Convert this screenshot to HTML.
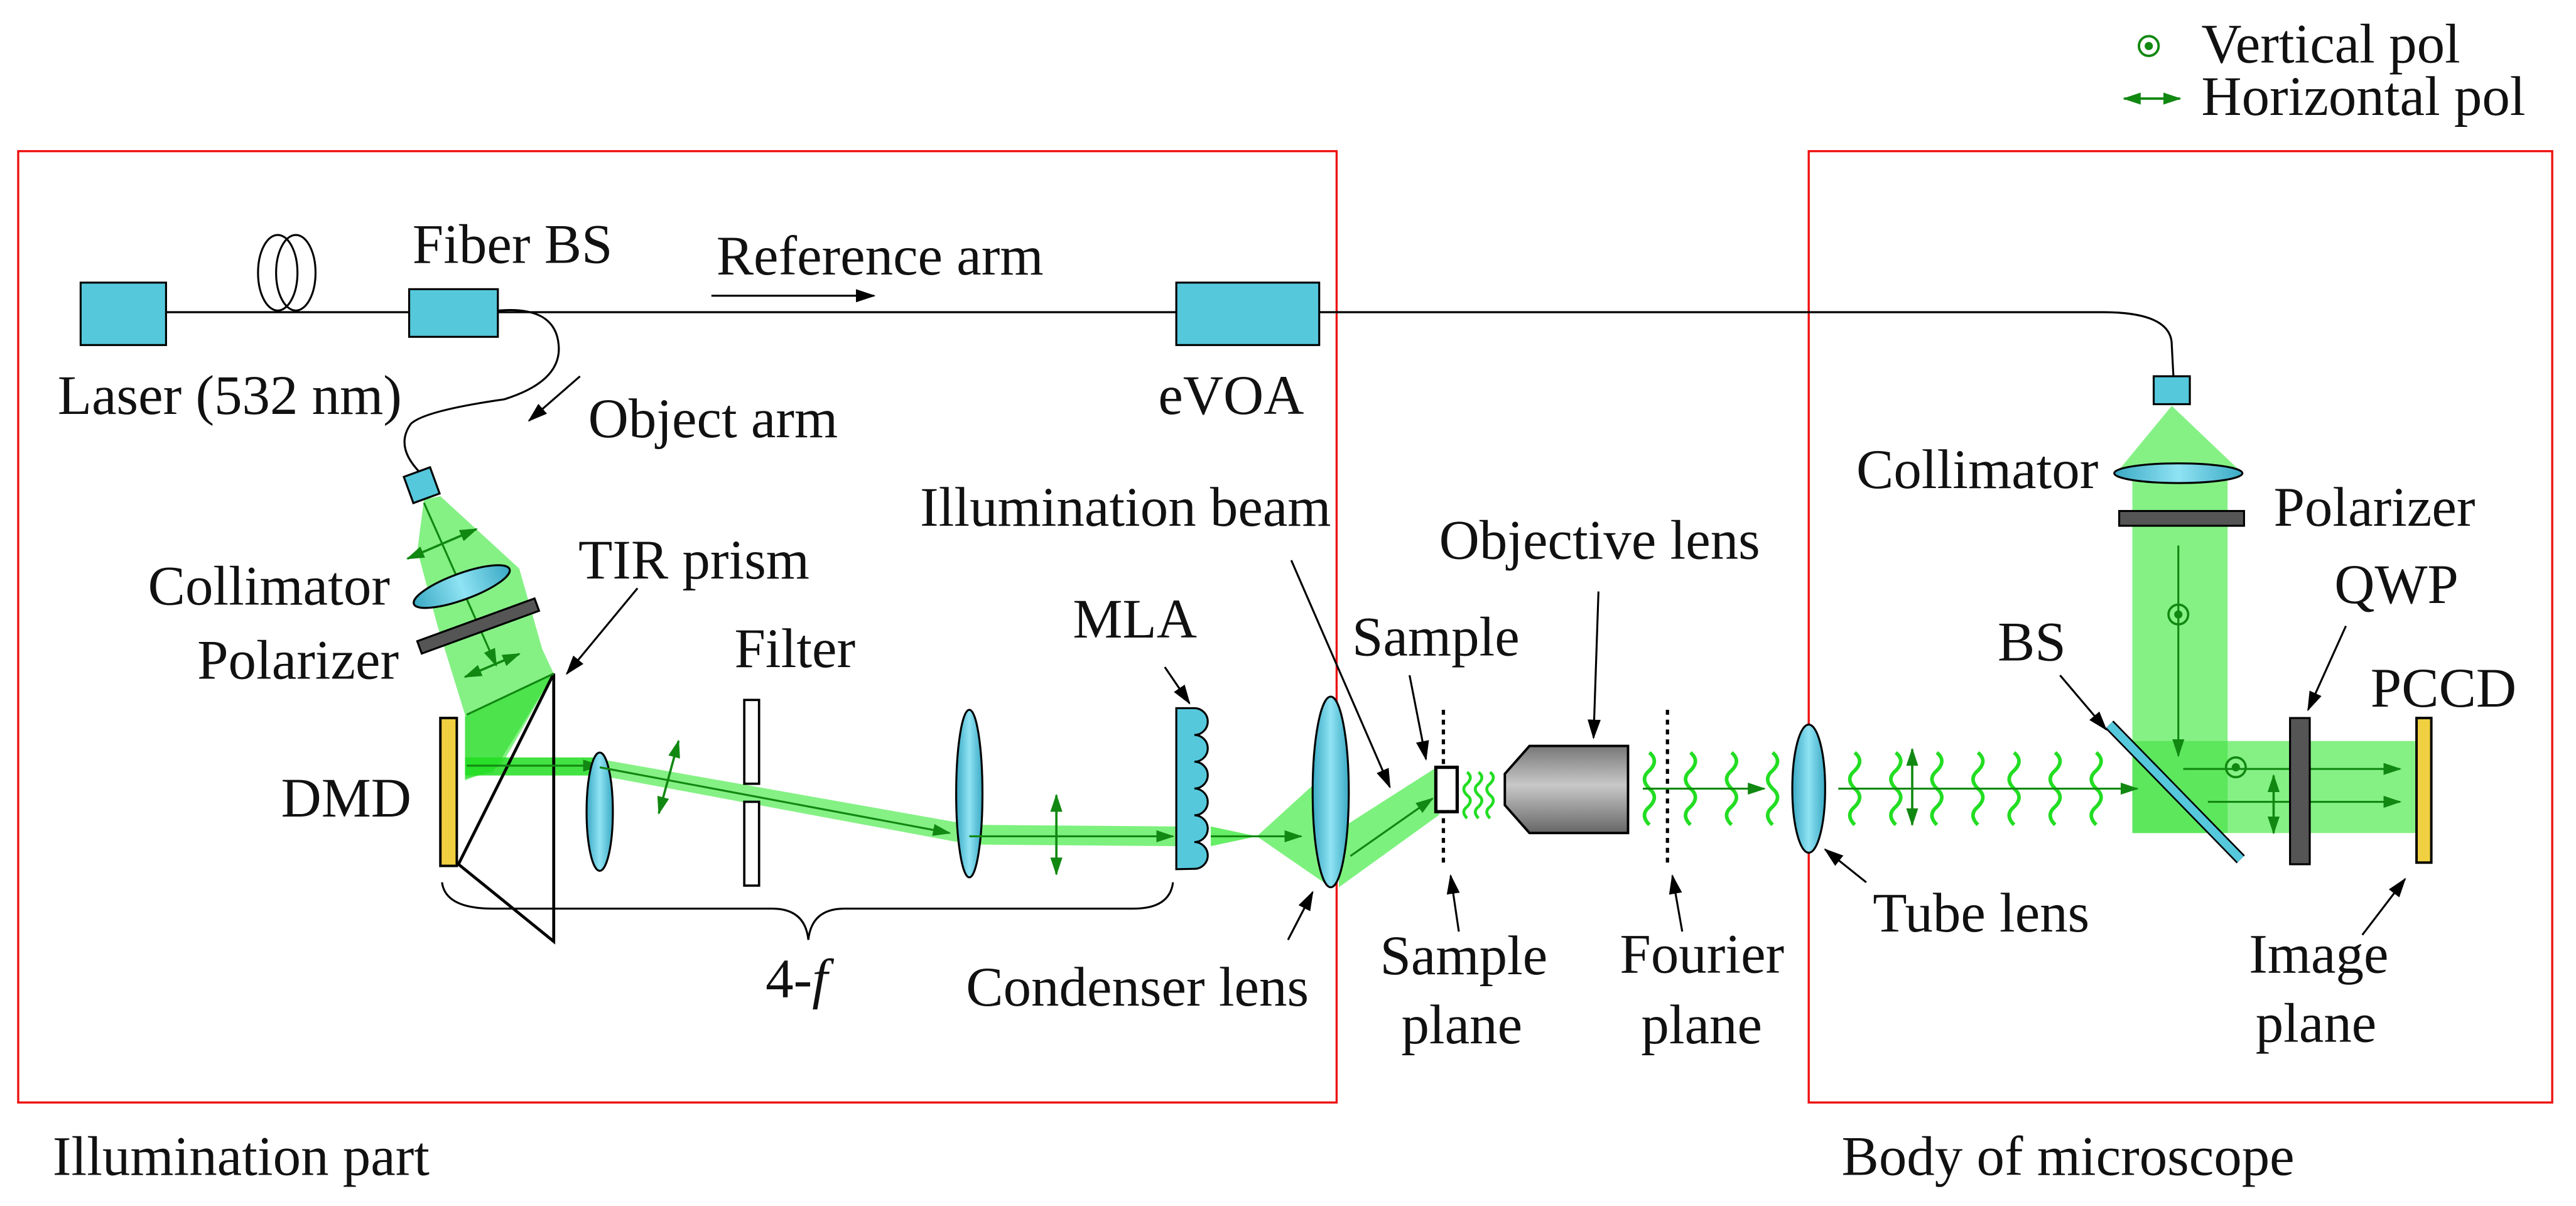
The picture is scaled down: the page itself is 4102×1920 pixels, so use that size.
<!DOCTYPE html>
<html><head><meta charset="utf-8"><style>
html,body{margin:0;padding:0;background:#fff;}
svg{display:block;}
svg text{font-family:"Liberation Serif","DejaVu Serif",serif !important;font-size:34px;fill:#111;}
</style></head><body>
<svg width="4102" height="1920" viewBox="0 0 1568 734" xmlns="http://www.w3.org/2000/svg" font-family="Liberation Serif, DejaVu Serif, serif">
<defs>
<marker id="ab" viewBox="0 0 12 8" refX="11" refY="4" markerWidth="12" markerHeight="8" markerUnits="userSpaceOnUse" orient="auto"><path d="M0,0 L12,4 L0,8 Z" fill="#000"/></marker>
<marker id="ag" viewBox="0 0 12 8" refX="11" refY="4" markerWidth="11" markerHeight="8" markerUnits="userSpaceOnUse" orient="auto"><path d="M0,0 L12,4 L0,8 Z" fill="#118811"/></marker>
<marker id="ags" viewBox="0 0 12 8" refX="1" refY="4" markerWidth="11" markerHeight="8" markerUnits="userSpaceOnUse" orient="auto"><path d="M12,0 L0,4 L12,8 Z" fill="#118811"/></marker>
<linearGradient id="lg" x1="0" x2="1"><stop offset="0" stop-color="#3aa9c4"/><stop offset="0.5" stop-color="#8fe3f3"/><stop offset="1" stop-color="#3aa9c4"/></linearGradient>
<linearGradient id="og" x1="0" y1="0" x2="0" y2="1"><stop offset="0" stop-color="#777"/><stop offset="0.45" stop-color="#c8c8c8"/><stop offset="1" stop-color="#666"/></linearGradient>
<path id="wv" d="M0,-22 q6,5 0,11 q-6,5 0,11 q6,5 0,11 q-6,5 0,11" fill="none" stroke="#22dd22" stroke-width="2.2"/>
</defs>

<rect x="11" y="92" width="802.6" height="579" fill="none" stroke="#ee1111" stroke-width="1.3"/>
<rect x="1101" y="92" width="452.6" height="579" fill="none" stroke="#ee1111" stroke-width="1.3"/>
<text x="32" y="715">Illumination part</text>
<text x="1121" y="715">Body of microscope</text>

<circle cx="1308" cy="28" r="6" fill="none" stroke="#118811" stroke-width="1.5"/><circle cx="1308" cy="28" r="2.5" fill="#118811"/>
<text x="1340" y="38">Vertical pol</text>
<line x1="1293" y1="60" x2="1327" y2="60" stroke="#118811" stroke-width="1.5" marker-start="url(#ags)" marker-end="url(#ag)"/>
<text x="1340" y="70">Horizontal pol</text>

<line x1="101" y1="190" x2="716" y2="190" stroke="#000" stroke-width="1.2"/>
<path d="M803,190 L1280,190 Q1322,190 1322,210 L1323,229" fill="none" stroke="#000" stroke-width="1.2"/>
<ellipse cx="169" cy="166" rx="12" ry="23" fill="none" stroke="#000" stroke-width="1.2"/>
<ellipse cx="180" cy="166" rx="12" ry="23" fill="none" stroke="#000" stroke-width="1.2"/>
<path d="M303,189 Q338,186 340,210 Q342,232 307,243 Q258,250 250,258 Q240,272 256,288" fill="none" stroke="#000" stroke-width="1.2"/>
<rect x="49" y="172" width="52" height="38" fill="#55c8dc" stroke="#000" stroke-width="1.2"/>
<rect x="249" y="176" width="54" height="29" fill="#55c8dc" stroke="#000" stroke-width="1.2"/>
<rect x="716" y="172" width="87" height="38" fill="#55c8dc" stroke="#000" stroke-width="1.2"/>
<text x="251" y="160">Fiber BS</text>
<text x="436" y="167">Reference arm</text>
<line x1="433" y1="180" x2="532" y2="180" stroke="#000" stroke-width="1.2" marker-end="url(#ab)"/>
<text x="35" y="252">Laser (532 nm)</text>
<text x="705" y="252">eVOA</text>
<line x1="353" y1="229" x2="322" y2="256" stroke="#000" stroke-width="1.2" marker-end="url(#ab)"/>
<text x="358" y="266">Object arm</text>

<polygon points="258,304 254,335 266,380 283,435 283,475 305,466 337,410 330,395 316,346 268,302" fill="#66ee66" opacity="0.8"/>
<polygon points="283,436 337,410 300,470 283,474" fill="#33dd33" opacity="0.7"/>
<polygon points="283,461 365,461 365,472 283,472" fill="#22dd22" opacity="0.85"/>
<polygon points="365,462 591,502 591,514 365,472" fill="#66ee66" opacity="0.8"/>
<polygon points="591,502 716,503 716,515 591,514" fill="#66ee66" opacity="0.85"/>
<polygon points="737,503 765,509 737,515" fill="#66ee66"/>
<polygon points="765,509 810,468 810,540" fill="#66ee66" opacity="0.85"/>
<polygon points="815,505 876,466 876,496 815,540" fill="#66ee66" opacity="0.85"/>
<rect x="248" y="287" width="17" height="17" fill="#55c8dc" stroke="#000" stroke-width="1.2" transform="rotate(-20 256 295)"/>
<line x1="258" y1="306" x2="302" y2="405" stroke="#118811" stroke-width="1.2" marker-end="url(#ag)"/>
<line x1="248" y1="340" x2="290" y2="322" stroke="#118811" stroke-width="1.4" marker-start="url(#ags)" marker-end="url(#ag)"/>
<line x1="283" y1="412" x2="316" y2="398" stroke="#118811" stroke-width="1.4" marker-start="url(#ags)" marker-end="url(#ag)"/>
<ellipse cx="281" cy="357" rx="31" ry="8" fill="url(#lg)" stroke="#000" stroke-width="1.2" transform="rotate(-20 281 357)"/>
<rect x="253" y="377" width="76" height="8" fill="#555" stroke="#000" stroke-width="1.2" transform="rotate(-20 291 381)"/>
<text x="90" y="368">Collimator</text>
<text x="120" y="413">Polarizer</text>

<rect x="268" y="437" width="10" height="90" fill="#f0d040" stroke="#000" stroke-width="1.5"/>
<text x="171" y="497">DMD</text>
<polygon points="337,410 279,526 337,573" fill="none" stroke="#000" stroke-width="1.8"/>
<line x1="284" y1="435" x2="337" y2="410" stroke="#118811" stroke-width="1.2"/>
<line x1="284" y1="466" x2="365" y2="466" stroke="#118811" stroke-width="1.2" marker-end="url(#ag)"/>
<text x="352" y="352">TIR prism</text>
<line x1="388" y1="358" x2="345" y2="410" stroke="#000" stroke-width="1.2" marker-end="url(#ab)"/>

<ellipse cx="365" cy="494" rx="8" ry="36" fill="url(#lg)" stroke="#000" stroke-width="1.2"/>
<line x1="365" y1="467" x2="578" y2="507" stroke="#118811" stroke-width="1.2" marker-end="url(#ag)"/>
<line x1="413" y1="451" x2="401" y2="495" stroke="#118811" stroke-width="1.4" marker-start="url(#ags)" marker-end="url(#ag)"/>
<rect x="453" y="426" width="9" height="51" fill="#fff" stroke="#000" stroke-width="1.4"/>
<rect x="453" y="488" width="9" height="51" fill="#fff" stroke="#000" stroke-width="1.4"/>
<text x="447" y="406">Filter</text>
<ellipse cx="590" cy="483" rx="8" ry="51" fill="url(#lg)" stroke="#000" stroke-width="1.2"/>
<line x1="590" y1="509" x2="714" y2="509" stroke="#118811" stroke-width="1.2" marker-end="url(#ag)"/>
<line x1="643" y1="484" x2="643" y2="532" stroke="#118811" stroke-width="1.4" marker-start="url(#ags)" marker-end="url(#ag)"/>
<path d="M716,431 L727,431 a8,8 0 0 1 0,16.3 a8,8 0 0 1 0,16.3 a8,8 0 0 1 0,16.3 a8,8 0 0 1 0,16.3 a8,8 0 0 1 0,16.3 a8,8 0 0 1 0,16.3 L716,529 Z" fill="#55c8dc" stroke="#000" stroke-width="1.2"/>
<text x="653" y="388">MLA</text>
<line x1="709" y1="406" x2="724" y2="428" stroke="#000" stroke-width="1.2" marker-end="url(#ab)"/>
<path d="M269,537 Q271,553 300,553 L470,553 Q490,553 492,572 Q494,553 514,553 L690,553 Q712,553 714,537" fill="none" stroke="#000" stroke-width="1.2"/>
<text x="466" y="607">4-<tspan font-style="italic">f</tspan></text>

<line x1="737" y1="509" x2="792" y2="509" stroke="#118811" stroke-width="1.2" marker-end="url(#ag)"/>
<ellipse cx="810" cy="482" rx="11" ry="58" fill="url(#lg)" stroke="#000" stroke-width="1.2"/>
<line x1="822" y1="521" x2="872" y2="486" stroke="#118811" stroke-width="1.2" marker-end="url(#ag)"/>
<text x="588" y="612">Condenser lens</text>
<line x1="784" y1="572" x2="799" y2="543" stroke="#000" stroke-width="1.2" marker-end="url(#ab)"/>
<text x="560" y="320">Illumination beam</text>
<line x1="786" y1="341" x2="846" y2="479" stroke="#000" stroke-width="1.2" marker-end="url(#ab)"/>

<line x1="878.6" y1="432" x2="878.6" y2="528" stroke="#000" stroke-width="2" stroke-dasharray="3,3"/>
<rect x="874" y="467" width="13" height="27" fill="#fff" stroke="#000" stroke-width="2"/>
<text x="823" y="399">Sample</text>
<line x1="858" y1="411" x2="868" y2="462" stroke="#000" stroke-width="1.2" marker-end="url(#ab)"/>
<text x="840" y="593">Sample</text><text x="853" y="635">plane</text>
<line x1="888" y1="567" x2="883" y2="533" stroke="#000" stroke-width="1.2" marker-end="url(#ab)"/>
<path d="M893,470 q4,3 0,7 q-4,3 0,7 q4,3 0,7 q-4,3 0,7" fill="none" stroke="#22dd22" stroke-width="1.8"/>
<path d="M900,470 q4,3 0,7 q-4,3 0,7 q4,3 0,7 q-4,3 0,7" fill="none" stroke="#22dd22" stroke-width="1.8"/>
<path d="M907,470 q4,3 0,7 q-4,3 0,7 q4,3 0,7 q-4,3 0,7" fill="none" stroke="#22dd22" stroke-width="1.8"/>

<polygon points="916,471 931,454 991,454 991,507 931,507 916,490" fill="url(#og)" stroke="#000" stroke-width="1.5"/>
<text x="876" y="340">Objective lens</text>
<line x1="973" y1="360" x2="970" y2="449" stroke="#000" stroke-width="1.2" marker-end="url(#ab)"/>
<line x1="1015" y1="432" x2="1015" y2="528" stroke="#000" stroke-width="2" stroke-dasharray="3,3"/>
<text x="986" y="592">Fourier</text><text x="999" y="635">plane</text>
<line x1="1024" y1="567" x2="1018" y2="533" stroke="#000" stroke-width="1.2" marker-end="url(#ab)"/>
<use href="#wv" x="1004" y="480"/><use href="#wv" x="1029" y="480"/><use href="#wv" x="1054" y="480"/><use href="#wv" x="1079" y="480"/>
<line x1="1000" y1="480" x2="1074" y2="480" stroke="#118811" stroke-width="1.2" marker-end="url(#ag)"/>

<ellipse cx="1101" cy="480" rx="10" ry="39" fill="url(#lg)" stroke="#000" stroke-width="1.2"/>
<text x="1140" y="567">Tube lens</text>
<line x1="1136" y1="537" x2="1111" y2="517" stroke="#000" stroke-width="1.2" marker-end="url(#ab)"/>

<polygon points="1322,247 1364,287 1356,287 1356,451 1474,451 1474,507 1298,507 1298,287 1289,287" fill="#66ee66" opacity="0.8"/>
<polygon points="1298,451 1356,451 1356,507 1298,507" fill="#33dd33" opacity="0.5"/>
<use href="#wv" x="1129" y="480"/><use href="#wv" x="1154" y="480"/><use href="#wv" x="1179" y="480"/><use href="#wv" x="1204" y="480"/><use href="#wv" x="1226" y="480"/><use href="#wv" x="1251" y="480"/><use href="#wv" x="1276" y="480"/>
<line x1="1119" y1="480" x2="1301" y2="480" stroke="#118811" stroke-width="1.2" marker-end="url(#ag)"/>
<line x1="1164" y1="456" x2="1164" y2="502" stroke="#118811" stroke-width="1.4" marker-start="url(#ags)" marker-end="url(#ag)"/>
<rect x="1311" y="229" width="22" height="17" fill="#55c8dc" stroke="#000" stroke-width="1.2"/>
<ellipse cx="1326" cy="288" rx="39" ry="6" fill="url(#lg)" stroke="#000" stroke-width="1.2"/>
<rect x="1290" y="311" width="76" height="9" fill="#555" stroke="#000" stroke-width="1.2"/>
<text x="1130" y="297">Collimator</text>
<text x="1384" y="320">Polarizer</text>
<line x1="1326" y1="332" x2="1326" y2="460" stroke="#118811" stroke-width="1.2" marker-end="url(#ag)"/>
<circle cx="1326" cy="374" r="6" fill="none" stroke="#118811" stroke-width="1.4"/><circle cx="1326" cy="374" r="2.5" fill="#118811"/>
<line x1="1284" y1="441" x2="1364" y2="523" stroke="#000" stroke-width="7"/>
<line x1="1284" y1="441" x2="1364" y2="523" stroke="#55c8dc" stroke-width="5"/>
<text x="1216" y="402">BS</text>
<line x1="1254" y1="411" x2="1282" y2="444" stroke="#000" stroke-width="1.2" marker-end="url(#ab)"/>
<line x1="1329" y1="468" x2="1461" y2="468" stroke="#118811" stroke-width="1.2" marker-end="url(#ag)"/>
<line x1="1344" y1="488" x2="1461" y2="488" stroke="#118811" stroke-width="1.2" marker-end="url(#ag)"/>
<circle cx="1361" cy="467" r="6" fill="none" stroke="#118811" stroke-width="1.4"/><circle cx="1361" cy="467" r="2.5" fill="#118811"/>
<line x1="1384" y1="472" x2="1384" y2="507" stroke="#118811" stroke-width="1.4" marker-start="url(#ags)" marker-end="url(#ag)"/>
<rect x="1394" y="437" width="12" height="89" fill="#555" stroke="#000" stroke-width="1.2"/>
<text x="1421" y="367">QWP</text>
<line x1="1428" y1="381" x2="1405" y2="432" stroke="#000" stroke-width="1.2" marker-end="url(#ab)"/>
<rect x="1471" y="437" width="9" height="88" fill="#f0d040" stroke="#000" stroke-width="1.5"/>
<text x="1443" y="430">PCCD</text>
<text x="1369" y="592">Image</text><text x="1373" y="634">plane</text>
<line x1="1438" y1="569" x2="1464" y2="535" stroke="#000" stroke-width="1.2" marker-end="url(#ab)"/>
</svg>
</body></html>
